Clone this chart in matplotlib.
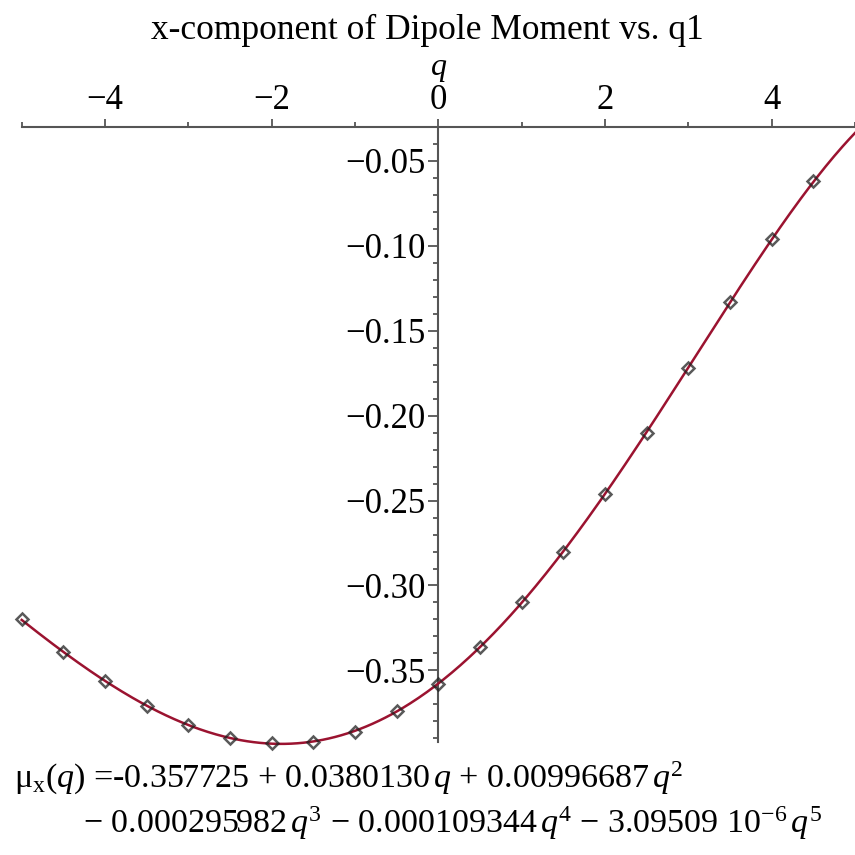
import numpy as np
import matplotlib
matplotlib.use("Agg")
import matplotlib.pyplot as plt
from matplotlib.ticker import MultipleLocator, FixedLocator


# ============================================================
# DATA
# ============================================================

# sampled dipole x-component at each q1 displacement
Q_POINTS = [-5.0, -4.5, -4.0, -3.5, -3.0, -2.5, -2.0, -1.5, -1.0, -0.5,
            0.0, 0.5, 1.0, 1.5, 2.0, 2.5, 3.0, 3.5, 4.0, 4.5]
MU_POINTS = [-0.320, -0.339, -0.356, -0.371, -0.382, -0.390, -0.393, -0.392, -0.386, -0.374,
             -0.358, -0.336, -0.310, -0.280, -0.246, -0.210, -0.172, -0.133, -0.096, -0.062]

# least-squares polynomial fit, constant term first
FIT_COEFFS = [-0.357725, 0.0380130, 0.00996687, -0.000295982, -0.000109344, -3.09509e-6]

X_TICKS = [-4, -2, 0, 2, 4]
X_MINOR = [-5, -3, -1, 1, 3, 5]
Y_TICKS = [-0.05, -0.10, -0.15, -0.20, -0.25, -0.30, -0.35]

Q_MIN, Q_MAX = -5.0, 5.0
MU_MIN, MU_MAX = -0.392, -0.0298

CURVE_COLOR = "#9b1330"
AXIS_COLOR = "#555555"


# ============================================================
# PLOTTING
# ============================================================

plt.rcParams["font.family"] = ["Liberation Serif", "DejaVu Serif"]
plt.rcParams["mathtext.fontset"] = "custom"
plt.rcParams["mathtext.rm"] = "Liberation Serif"
plt.rcParams["mathtext.it"] = "Liberation Serif:italic"

fig = plt.figure(figsize=(8.55, 8.55), dpi=100)
ax = fig.add_axes([21.7 / 855, 1 - 741.7 / 855, 1 - 21.7 / 855, (741.7 - 126.7) / 855])

q = np.linspace(Q_MIN, Q_MAX, 400)
mu = np.polynomial.polynomial.polyval(q, FIT_COEFFS)
ax.plot(q, mu, color=CURVE_COLOR, linewidth=1.8, clip_on=False, zorder=3)
ax.plot(Q_POINTS, MU_POINTS, linestyle="none", marker="D", markersize=6.5,
        markerfacecolor="none", markeredgecolor="#222222", markeredgewidth=1.8,
        alpha=0.75, clip_on=False, zorder=4)

ax.set_xlim(Q_MIN, Q_MAX)
ax.set_ylim(MU_MIN, MU_MAX)

# axes cross: horizontal axis along the top, vertical axis through q = 0
for side in ["bottom", "right"]:
    ax.spines[side].set_visible(False)
ax.spines["left"].set_position(("data", 0))
for side in ["left", "top"]:
    ax.spines[side].set_color(AXIS_COLOR)
    ax.spines[side].set_linewidth(1.5)

ax.xaxis.set_ticks_position("top")
ax.set_xticks(X_TICKS)
ax.set_xticklabels([f"\u2212{abs(v)}" if v < 0 else f"{v}" for v in X_TICKS])
ax.xaxis.set_minor_locator(FixedLocator(X_MINOR))

ax.yaxis.set_ticks_position("left")
ax.set_yticks(Y_TICKS)
ax.set_yticklabels([f"\u2212{abs(v):.2f}" for v in Y_TICKS])
ax.yaxis.set_minor_locator(MultipleLocator(0.01))

ax.tick_params(which="major", direction="out", length=7, width=1.3,
               color=AXIS_COLOR, labelsize=25)
ax.tick_params(which="minor", direction="out", length=3.5, width=1.3, color=AXIS_COLOR)
ax.tick_params(axis="x", which="major", length=6, pad=1)
ax.tick_params(axis="y", which="major", pad=2)

ax.annotate("$q$", xy=(0, MU_MAX), xytext=(0, 31), textcoords="offset points",
            ha="center", va="bottom", fontsize=23, annotation_clip=False)

fig.text(0.5, 1 - 30 / 855, "x-component of Dipole Moment vs. q1",
         ha="center", va="center", fontsize=25.5)

fig.text(14 / 855, 1 - 788 / 855,
         r"$\mathrm{\mu}_{\mathrm{x}}(q)$ =-0.357725 + 0.0380130$\,q$ + 0.00996687$\,q^{2}$",
         ha="left", va="baseline", fontsize=24.5)
fig.text(83 / 855, 1 - 833 / 855,
         "\u2212 0.000295982$\\,q^{3}$ \u2212 0.000109344$\\,q^{4}$ \u2212 3.09509 10$^{\u22126}$$\\,q^{5}$",
         ha="left", va="baseline", fontsize=24.5)

fig.savefig("out.png", dpi=100)
